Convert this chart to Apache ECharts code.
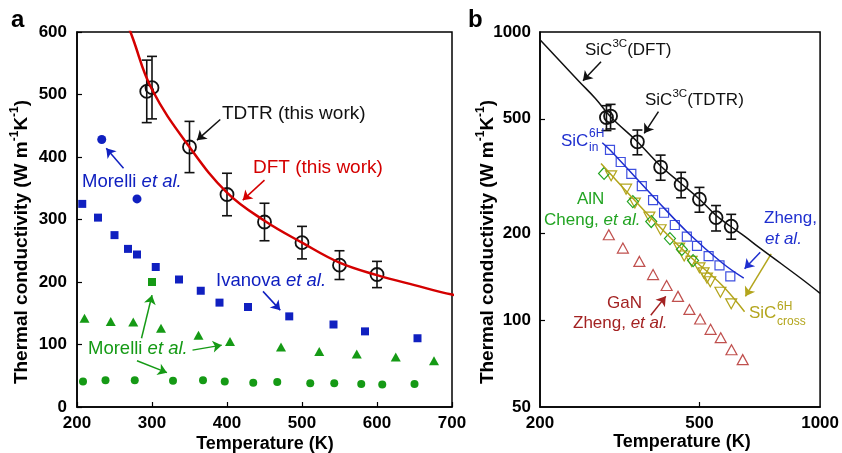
<!DOCTYPE html>
<html>
<head>
<meta charset="utf-8">
<script src="https://cdn.jsdelivr.net/npm/echarts@6/dist/echarts.min.js"></script>
<style>html,body{margin:0;padding:0;background:#fff}#chart{width:842px;height:453px}</style>
</head>
<body>
<div id="chart"></div>
<script>
// SiC 3C - TDTR (this work), shared by both panels
var tdtrT = [293, 300, 350, 400, 450, 500, 550, 600];
var tdtrK = [505, 511, 416, 340, 296, 263, 227, 212];
var tdtrErr = [50, 50, 41, 34, 30, 26, 23, 21];

// SiC 3C - DFT (this work)
var dftT = [200, 250, 275, 300, 350, 400, 450, 500, 550, 600, 650, 700, 800, 900, 1000];
var dftK = [940, 675, 588, 508, 416, 343, 298, 263, 231, 211, 195, 180, 157, 139, 124];

// panel a literature
var morelliBlueT = [233, 280];
var morelliBlueK = [428, 333];
var ivanovaT = [207, 228, 250, 268, 280, 305, 336, 365, 390, 428, 483, 542, 584, 654];
var ivanovaK = [325, 303, 275, 253, 244, 224, 204, 186, 167, 160, 145, 132, 121, 110];
var morelliSqT = [300];
var morelliSqK = [200];
var morelliTriT = [210, 245, 275, 312, 362, 404, 472, 523, 573, 625, 676];
var morelliTriK = [142, 137, 136, 126, 115, 105, 96, 89, 85, 80, 74];
var morelliDotT = [208, 238, 277, 328, 368, 397, 435, 467, 511, 543, 579, 607, 650];
var morelliDotK = [41, 43, 43, 42, 43, 41, 39, 40, 38, 38, 37, 36, 37];

// panel b
var inLineT = [286, 300, 390, 470, 570, 645];
var inLineK = [413, 388, 262, 200, 158, 140];
var inT = [299, 318, 338, 359, 383, 408, 434, 465, 493, 527, 561, 597];
var inK = [390, 354, 322, 292, 261, 236, 214, 195, 181, 167, 155, 142];
var crossLineT = [284, 390, 470, 570, 648];
var crossLineK = [350, 217, 168, 132, 107];
var crossT = [301, 328, 345, 375, 400, 445, 458, 478, 500, 512, 522, 532, 564, 600];
var crossK = [317, 285, 255, 228, 206, 178, 167, 160, 152, 146, 140, 136, 125, 114];
var alnT = [289, 341, 379, 422, 452, 482];
var alnK = [323, 258, 220, 192, 176, 161];
var ganT = [297, 322, 354, 383, 414, 442, 472, 502, 533, 565, 601, 641];
var ganK = [198, 178, 160, 144, 132, 121, 109, 101, 93, 87, 79, 73];

// tick labels
var ticksA_x = [200, 300, 400, 500, 600, 700];
var ticksA_y = [0, 100, 200, 300, 400, 500, 600];
var ticksB_x = [200, 500, 1000];
var ticksB_y = [50, 100, 200, 500, 1000];

var FONT = '"Liberation Sans", Arial, sans-serif';
var BLUE = '#1020c0', GREEN = '#159a15', RED = '#d40000';
var BBLUE = '#1f2fcf', BSQ = '#3f50e0', OLIVE = '#b3a51c', DGREEN = '#22a422', GAN = '#c0504e', GANTXT = '#a32222';

function pairs(xs, ys) { return xs.map(function (x, i) { return [x, ys[i]]; }); }

function errorBars(xi, yi) {
  return {
    type: 'custom', xAxisIndex: xi, yAxisIndex: yi, silent: true, z: 3,
    data: tdtrT.map(function (t, i) { return [t, tdtrK[i] - tdtrErr[i], tdtrK[i] + tdtrErr[i]]; }),
    encode: {x: 0, y: [1, 2]},
    renderItem: function (params, api) {
      var top = api.coord([api.value(0), api.value(2)]);
      var bot = api.coord([api.value(0), api.value(1)]);
      var w = 5, st = {stroke: '#111', lineWidth: 1.6};
      return {type: 'group', children: [
        {type: 'line', shape: {x1: top[0], y1: top[1], x2: bot[0], y2: bot[1]}, style: st},
        {type: 'line', shape: {x1: top[0] - w, y1: top[1], x2: top[0] + w, y2: top[1]}, style: st},
        {type: 'line', shape: {x1: bot[0] - w, y1: bot[1], x2: bot[0] + w, y2: bot[1]}, style: st}
      ]};
    }
  };
}

function arrows(list, color) {
  return {
    silent: true, animation: false,
    symbol: ['none', 'arrow'], symbolSize: 9,
    label: {show: false},
    itemStyle: {color: color},
    lineStyle: {color: color, width: 1.5, type: 'solid', opacity: 1},
    emphasis: {disabled: true},
    data: list.map(function (a) { return [{coord: a[0]}, {coord: a[1]}]; })
  };
}

function scatter(xi, yi, xs, ys, symbol, size, fill, stroke, bw, extra) {
  var s = {
    type: 'scatter', xAxisIndex: xi, yAxisIndex: yi, data: pairs(xs, ys),
    symbol: symbol, symbolSize: size, silent: true, z: 4,
    itemStyle: {color: fill, borderColor: stroke || fill, borderWidth: bw || 0, opacity: 1}
  };
  for (var k in extra) s[k] = extra[k];
  return s;
}

var lbl = {color: '#000', fontWeight: 'bold', fontSize: 17, fontFamily: FONT,
  formatter: function (v) { return String(v); }};
var axLine = {show: true, lineStyle: {color: '#000', width: 1.5}};
var tick = {show: true, inside: true, length: 5, lineStyle: {color: '#000', width: 1.2}};

function txt(x, y, text, color, size, rich) {
  return {
    type: 'text', x: x, y: y, silent: true, z: 100,
    style: {text: text, fill: color, font: (size || 18) + 'px ' + FONT, align: 'left', verticalAlign: 'middle', rich: rich}
  };
}
function etal(size) {
  return {n: {fontSize: size, fontFamily: FONT}, i: {fontSize: size, fontFamily: FONT, fontStyle: 'italic'}};
}
function supRich(size) {
  return {
    n: {fontSize: size, fontFamily: FONT, lineHeight: size + 8, verticalAlign: 'middle'},
    s: {fontSize: size * 0.68, fontFamily: FONT, verticalAlign: 'top', lineHeight: size * 0.68}
  };
}
var titleRich = {
  n: {fontSize: 19, fontWeight: 'bold', fontFamily: FONT, lineHeight: 27, verticalAlign: 'middle'},
  s: {fontSize: 12, fontWeight: 'bold', fontFamily: FONT, lineHeight: 12, verticalAlign: 'top'}
};
function bold(x, y, text, size, align) {
  return {type: 'text', x: x, y: y, silent: true,
    style: {text: text, fill: '#000', font: 'bold ' + size + 'px ' + FONT, align: align || 'left', verticalAlign: 'middle'}};
}

var option = {
  animation: false,
  backgroundColor: '#fff',
  grid: [
    {left: 77, top: 32, width: 375, height: 375, show: true, borderColor: '#000', borderWidth: 1.5},
    {left: 540, top: 32, width: 282, height: 375, show: true, borderColor: '#000', borderWidth: 1.5}
  ],
  xAxis: [
    {type: 'value', gridIndex: 0, min: 200, max: 700, interval: 100,
     axisLine: axLine, axisTick: tick, splitLine: {show: false},
     axisLabel: Object.assign({margin: 8, customValues: ticksA_x}, lbl)},
    {type: 'log', gridIndex: 1, min: 200, max: 1000, logBase: 10,
     axisLine: axLine, splitLine: {show: false}, minorTick: {show: false},
     axisTick: Object.assign({customValues: [500]}, tick),
     axisLabel: Object.assign({margin: 8, customValues: ticksB_x}, lbl)}
  ],
  yAxis: [
    {type: 'value', gridIndex: 0, min: 0, max: 600, interval: 100,
     axisLine: axLine, axisTick: tick, splitLine: {show: false},
     axisLabel: Object.assign({margin: 10, customValues: ticksA_y}, lbl)},
    {type: 'log', gridIndex: 1, min: 50, max: 1000, logBase: 10,
     axisLine: axLine, splitLine: {show: false}, minorTick: {show: false},
     axisTick: Object.assign({customValues: [100, 200, 500]}, tick),
     axisLabel: Object.assign({margin: 9, customValues: ticksB_y}, lbl)}
  ],
  series: [
    // ---- panel a ----
    {type: 'line', xAxisIndex: 0, yAxisIndex: 0, data: pairs(dftT, dftK), smooth: 0.4, showSymbol: false,
     silent: true, z: 5, clip: true, lineStyle: {color: RED, width: 2.5},
     markLine: arrows([[[450, 363], [421, 331]]], RED)},
    errorBars(0, 0),
    scatter(0, 0, tdtrT, tdtrK, 'circle', 13, 'rgba(0,0,0,0)', '#111', 1.8,
      {markLine: arrows([[[391, 460], [360, 427]]], '#111')}),
    scatter(0, 0, morelliBlueT, morelliBlueK, 'circle', 9, BLUE),
    scatter(0, 0, ivanovaT, ivanovaK, 'rect', 8, BLUE, null, 0,
      {markLine: arrows([[[262, 382], [239, 414]], [[448, 185], [471, 155]]], BLUE)}),
    scatter(0, 0, morelliSqT, morelliSqK, 'rect', 8, GREEN),
    scatter(0, 0, morelliTriT, morelliTriK, 'triangle', [10, 9], GREEN, null, 0,
      {markLine: arrows([[[286, 110], [300, 179]], [[354, 91], [393, 99]], [[280, 74], [320, 55]]], GREEN)}),
    scatter(0, 0, morelliDotT, morelliDotK, 'circle', 8, GREEN),

    // ---- panel b ----
    {type: 'line', xAxisIndex: 1, yAxisIndex: 1, data: pairs(dftT, dftK), smooth: 0.4, showSymbol: false,
     silent: true, z: 5, lineStyle: {color: '#111', width: 1.5}},
    errorBars(1, 1),
    scatter(1, 1, tdtrT, tdtrK, 'circle', 13, 'rgba(0,0,0,0)', '#111', 1.8,
      {markLine: arrows([[[284, 789], [256, 678]], [[395, 529], [364, 445]]], '#111')}),
    {type: 'line', xAxisIndex: 1, yAxisIndex: 1, data: pairs(inLineT, inLineK), smooth: 0.4, showSymbol: false,
     silent: true, z: 5, lineStyle: {color: BBLUE, width: 1.5},
     markLine: arrows([[[709, 172], [648, 151]]], BBLUE)},
    scatter(1, 1, inT, inK, 'rect', 9, 'rgba(0,0,0,0)', BSQ, 1.2),
    {type: 'line', xAxisIndex: 1, yAxisIndex: 1, data: pairs(crossLineT, crossLineK), smooth: 0.4, showSymbol: false,
     silent: true, z: 5, lineStyle: {color: OLIVE, width: 1.5},
     markLine: arrows([[[755, 170], [651, 121]]], OLIVE)},
    scatter(1, 1, crossT, crossK, 'triangle', [11, 10], 'rgba(0,0,0,0)', OLIVE, 1.2, {symbolRotate: 180}),
    scatter(1, 1, alnT, alnK, 'diamond', [11, 12], 'rgba(0,0,0,0)', DGREEN, 1.2),
    scatter(1, 1, ganT, ganK, 'triangle', [11, 10], 'rgba(0,0,0,0)', GAN, 1.2,
      {markLine: arrows([[[378, 104], [412, 121]]], GANTXT)})
  ],
  graphic: [
    bold(11, 20, 'a', 24),
    bold(468, 20, 'b', 24),
    // axis titles
    {type: 'text', x: 22, y: 242, rotation: Math.PI / 2, silent: true,
     style: {text: '{n|Thermal conductivity (W m}{s|-1}{n|K}{s|-1}{n|)}', rich: titleRich, fill: '#000', align: 'center', verticalAlign: 'middle'}},
    {type: 'text', x: 488, y: 242, rotation: Math.PI / 2, silent: true,
     style: {text: '{n|Thermal conductivity (W m}{s|-1}{n|K}{s|-1}{n|)}', rich: titleRich, fill: '#000', align: 'center', verticalAlign: 'middle'}},
    bold(265, 444, 'Temperature (K)', 18, 'center'),
    bold(682, 442, 'Temperature (K)', 18, 'center'),
    // panel a annotations
    txt(222, 114, 'TDTR (this work)', '#111', 19),
    txt(253, 168, 'DFT (this work)', RED, 19),
    txt(82, 182, '{n|Morelli }{i|et al.}', BLUE, 18.5, etal(18.5)),
    txt(216, 281, '{n|Ivanova }{i|et al.}', BLUE, 18.5, etal(18.5)),
    txt(88, 349, '{n|Morelli }{i|et al.}', GREEN, 18.5, etal(18.5)),
    // panel b annotations
    txt(585, 50, '{n|SiC}{s|3C}{n|(DFT)}', '#111', 17, supRich(17)),
    txt(645, 100, '{n|SiC}{s|3C}{n|(TDTR)}', '#111', 17, supRich(17)),
    txt(561, 141, 'SiC', BBLUE, 17),
    txt(589, 134, '6H', BBLUE, 12),
    txt(589, 148, 'in', BBLUE, 12),
    txt(577, 199, 'AlN', DGREEN, 17),
    txt(544, 220, '{n|Cheng, }{i|et al.}', DGREEN, 17, etal(17)),
    txt(764, 218, 'Zheng,', BBLUE, 17),
    txt(765, 239, '{i|et al.}', BBLUE, 17, etal(17)),
    txt(749, 313, 'SiC', OLIVE, 17),
    txt(777, 307, '6H', OLIVE, 12),
    txt(777, 322, 'cross', OLIVE, 12),
    txt(607, 303, 'GaN', GANTXT, 17),
    txt(573, 323, '{n|Zheng, }{i|et al.}', GANTXT, 17, etal(17))
  ]
};

var chart = echarts.init(document.getElementById('chart'));
chart.setOption(option);
</script>
</body>
</html>
